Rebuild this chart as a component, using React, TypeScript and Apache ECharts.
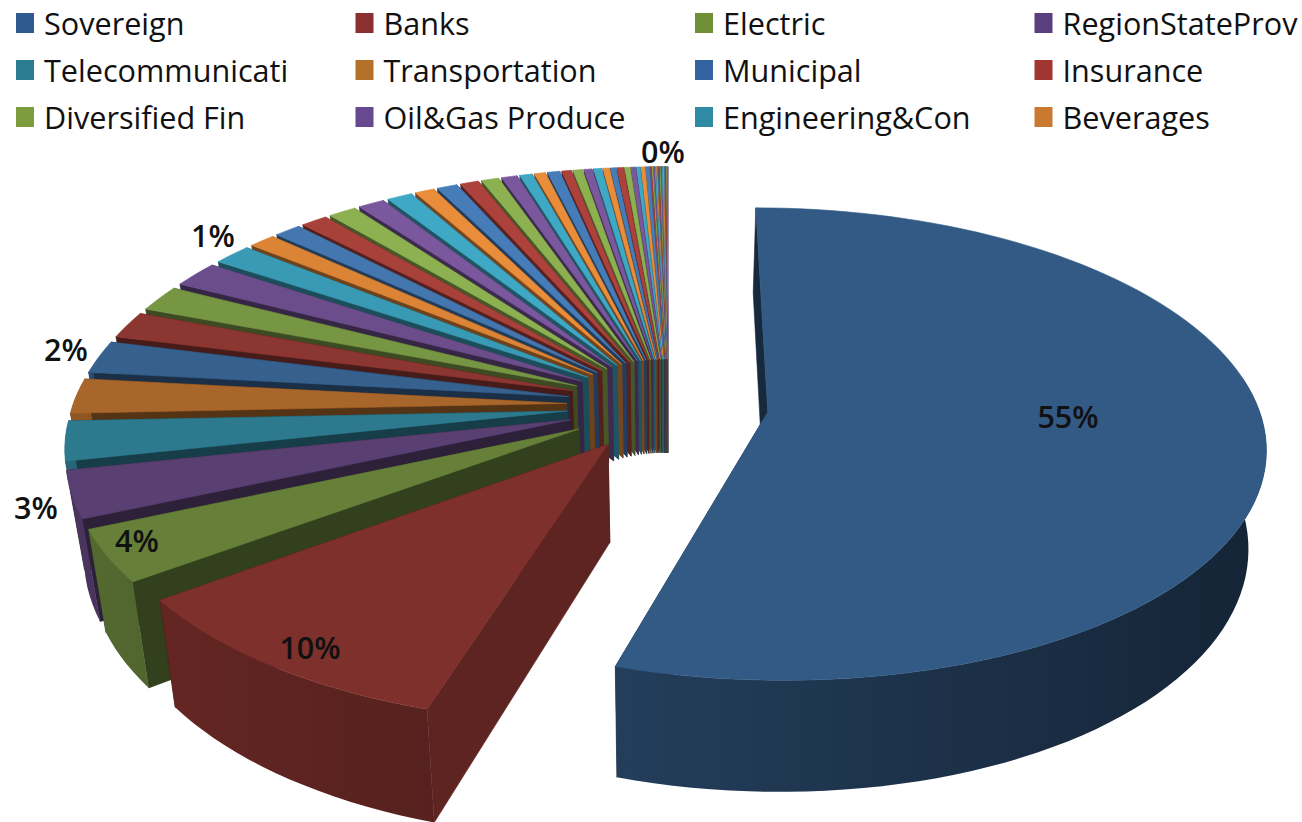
import React, { useEffect, useRef } from "react";
import * as echarts from "echarts";

const legendNames = [
  "Sovereign", "Banks", "Electric", "RegionStateProv",
  "Telecommunicati", "Transportation", "Municipal", "Insurance",
  "Diversified Fin", "Oil&Gas Produce", "Engineering&Con", "Beverages",
];
const legendColors = [
  "#2f5a8f", "#8a3030", "#6f8f35", "#5a3f80",
  "#2a7d90", "#b5702a", "#34649f", "#a03532",
  "#7d9c3e", "#66498f", "#2f8ba3", "#c97a30",
];
const sliceValues = [
  54.75, 10.1, 3.55, 3.2, 2.7, 2.4, 2.25, 1.85, 1.8, 1.8, 1.45, 1.0, 1.0, 1.0, 1.05,
  1.0, 0.95, 0.73, 0.77, 0.69, 0.65, 0.59, 0.47, 0.41, 0.46, 0.35, 0.35,
  0.3, 0.3, 0.24, 0.2, 0.24, 0.2, 0.17, 0.14, 0.15, 0.14,
  0.045, 0.045, 0.045, 0.045, 0.035, 0.035, 0.035, 0.035, 0.035, 0.035, 0.035, 0.035, 0.035, 0.035, 0.035,
];
const paletteBase = ["#335a85", "#7d302c", "#66803a", "#593f72", "#2d7a8f", "#a9662a"];
const dataLabels = [
  { text: "55%", x: 1068, y: 416 },
  { text: "10%", x: 310, y: 647 },
  { text: "4%", x: 137, y: 540 },
  { text: "3%", x: 36, y: 507 },
  { text: "2%", x: 66, y: 349 },
  { text: "1%", x: 213, y: 235 },
  { text: "0%", x: 663, y: 151 },
];

const CX = 668, CY = 405, RX = 490, RX_LEFT = 494, RY = 230, P = 0.135, DEPTH = 96, EXPLODE = 0.205, FLOOR_SCALE = 0.97;

function project(u: number, v: number, down: number): number[] {
  const s = 1 / (1 - P * v);
  const k = 1 - (1 - FLOOR_SCALE) * down;
  return [CX + (u < 0 ? RX_LEFT : RX) * u * s * k, CY + RY * v * s + down * DEPTH * s];
}
function shade(hex: string, f: number): string {
  const n = parseInt(hex.slice(1), 16);
  const ch = (c: number) => Math.max(0, Math.min(255, Math.round(c * f)));
  return `rgb(${ch((n >> 16) & 255)},${ch((n >> 8) & 255)},${ch(n & 255)})`;
}

type Slice = { a0: number; a1: number; mid: number; color: string };
function buildSlices(): Slice[] {
  const total = sliceValues.reduce((a, b) => a + b, 0);
  let acc = 0;
  const out: Slice[] = sliceValues.map((val, i) => {
    const a0 = (acc / total) * Math.PI * 2;
    acc += val;
    const a1 = (acc / total) * Math.PI * 2;
    return { a0, a1, mid: (a0 + a1) / 2, color: paletteBase[i % 6] };
  });
  return out.sort((p, q) => -Math.cos(p.mid) - -Math.cos(q.mid));
}

export default function App() {
  const ref = useRef<HTMLDivElement>(null);
  useEffect(() => {
    const chart = echarts.init(ref.current!, undefined, { renderer: "svg" });
    const slices = buildSlices();
    const renderItem = (params: any) => {
      const sl = slices[params.dataIndex];
      const ax = EXPLODE * Math.sin(sl.mid), av = -EXPLODE * Math.cos(sl.mid);
      const midDeg = (sl.mid * 180) / Math.PI;
      const a0Deg = (sl.a0 * 180) / Math.PI;
      const glow = 1 + 0.38 * Math.max(0, Math.min(1, (midDeg - 272) / 50));
      const top = shade(sl.color, glow);
      const rim = (a: number, down: number) => project(ax + Math.sin(a), av - Math.cos(a), down);
      const steps = Math.max(1, Math.ceil((sl.a1 - sl.a0) / (Math.PI / 90)));
      const children: any[] = [];
      const poly = (points: number[][], fill: any, stroked = true) => children.push({
        type: "polygon", shape: { points },
        style: stroked ? { fill, stroke: fill, lineWidth: 0.6 } : { fill },
      });
      const apexT = project(ax, av, 0), apexB = project(ax, av, 1);
      const startWall = a0Deg > 150
        ? 0.5 + 0.25 * Math.max(0, Math.min(1, (225 - a0Deg) / 20))
        : 0.45;
      poly([apexT, rim(sl.a1, 0), rim(sl.a1, 1), apexB], shade(sl.color, 0.5 * glow));
      poly([apexT, rim(sl.a0, 0), rim(sl.a0, 1), apexB], shade(sl.color, startWall * glow));
      const topPts = [apexT];
      const upper: number[][] = [];
      const lower: number[][] = [];
      let xMin = Infinity, xMax = -Infinity, fMin = 0.6, fMax = 0.6;
      for (let k = 0; k <= steps; k++) {
        const b = sl.a0 + ((sl.a1 - sl.a0) * k) / steps;
        const t = rim(b, 0);
        topPts.push(t);
        // the rim facing away from the viewer has no visible outer wall
        if (-Math.cos(b) > -0.15) {
          upper.push(t);
          lower.unshift(rim(b, 1));
          const f = 0.62 - 0.22 * Math.sin(b);
          if (t[0] < xMin) { xMin = t[0]; fMin = f; }
          if (t[0] > xMax) { xMax = t[0]; fMax = f; }
        }
      }
      if (upper.length > 1) {
        const wallFill = new echarts.graphic.LinearGradient(0, 0, 1, 0, [
          { offset: 0, color: shade(sl.color, fMin) },
          { offset: 1, color: shade(sl.color, fMax) },
        ]);
        poly(upper.concat(lower), wallFill, false);
      }
      poly(topPts, top);
      return { type: "group", children };
    };
    const legendColumn = (c: number) => ({
      orient: "vertical" as const,
      left: 16 + c * 339.5,
      top: 7.5,
      padding: 0,
      itemWidth: 18,
      itemHeight: 20,
      itemGap: 16,
      icon: "rect",
      selectedMode: false,
      data: [0, 1, 2].map((r) => ({
        name: legendNames[r * 4 + c],
        itemStyle: { color: legendColors[r * 4 + c] },
      })),
      textStyle: {
        fontFamily: "Open Sans", fontSize: 30.6, color: "#111", lineHeight: 30.5,
        padding: [0, 0, 0, 5],
      },
    });
    chart.setOption({
      animation: false,
      backgroundColor: "#fff",
      legend: [0, 1, 2, 3].map(legendColumn),
      graphic: dataLabels.map((d) => ({
        type: "text", x: d.x, y: d.y, z: 100,
        style: {
          text: d.text, x: 0, y: 0, align: "center", verticalAlign: "middle",
          font: '600 30.5px "Open Sans"', fill: "#111",
        },
      })),
      series: [
        {
          type: "custom", name: "slices", coordinateSystem: "none", silent: true,
          renderItem, data: slices.map((s) => [s.a0, s.a1]),
        },
        ...legendNames.map((name, i) => ({
          type: "custom", name, coordinateSystem: "none", data: [],
          itemStyle: { color: legendColors[i] }, renderItem: () => null,
        })),
      ],
    });
    return () => chart.dispose();
  }, []);
  return <div ref={ref} style={{ position: "fixed", left: 0, top: 0, width: 1302, height: 822 }} />;
}
